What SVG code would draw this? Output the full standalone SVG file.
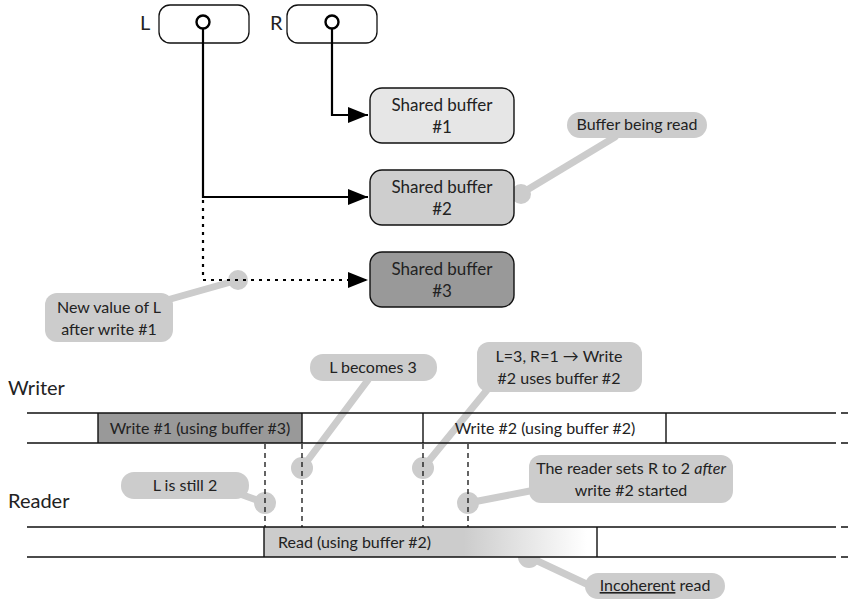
<svg xmlns="http://www.w3.org/2000/svg" width="851" height="600" viewBox="0 0 851 600">
  <style>
    text { font-family: Lato, "Open Sans", "Liberation Sans", sans-serif; fill: #222; }
    .t { font-size: 16px; text-anchor: middle; }
    .bt { font-size: 17px; text-anchor: middle; }
    .lbl { font-size: 20px; }
    .ptr { fill: none; stroke: #000; stroke-width: 2.2; }
    .buf { stroke: #111; stroke-width: 1.4; }
    .lane { stroke: #111; stroke-width: 1.4; fill: none; }
    .mark { stroke: #111; stroke-width: 1.3; stroke-dasharray: 5 4; fill: none; }
    .note { fill: #cccccc; }
    .lead { stroke: #cccccc; stroke-width: 7; fill: none; stroke-linecap: round; }
    .dot { fill: #cccccc; }
  </style>
  <defs>
    <marker id="arrow" markerUnits="userSpaceOnUse" markerWidth="22" markerHeight="18" refX="20" refY="9" orient="auto">
      <path d="M0,1 L20,9 L0,17 z" fill="#000"/>
    </marker>
    <linearGradient id="fade" gradientUnits="userSpaceOnUse" x1="264" y1="0" x2="597" y2="0">
      <stop offset="0" stop-color="#cccccc"/>
      <stop offset="0.6" stop-color="#cccccc"/>
      <stop offset="0.97" stop-color="#ffffff"/>
    </linearGradient>
  </defs>

  <!-- pointer registers -->
  <g id="reg-L">
    <text class="lbl" x="140" y="30">L</text>
    <rect x="159" y="5" width="90" height="38" rx="11" fill="#fff" stroke="#111" stroke-width="1.3"/>
    <circle cx="203" cy="22" r="6.5" fill="#fff" stroke="#000" stroke-width="2.4"/>
  </g>
  <g id="reg-R">
    <text class="lbl" x="270" y="30">R</text>
    <rect x="287" y="5" width="90" height="38" rx="11" fill="#fff" stroke="#111" stroke-width="1.3"/>
    <circle cx="332" cy="22" r="6.5" fill="#fff" stroke="#000" stroke-width="2.4"/>
  </g>

  <!-- callout leaders (drawn under everything else) -->
  <g id="leaders">
    <path class="lead" d="M615,137 L522,193"/>
    <circle class="dot" cx="521" cy="194" r="10"/>
    <path class="lead" d="M160,302 L238,280"/>
    <circle class="dot" cx="238" cy="280" r="10"/>
    <path class="lead" d="M368,380 L302,468"/>
    <circle class="dot" cx="302" cy="468" r="11"/>
    <path class="lead" d="M487,390 L423,468"/>
    <circle class="dot" cx="423" cy="468" r="11"/>
    <path class="lead" d="M240,494 L265,503"/>
    <circle class="dot" cx="265" cy="503" r="11"/>
    <path class="lead" d="M535,490 L468,503"/>
    <circle class="dot" cx="468" cy="503" r="11"/>
    <path class="lead" d="M529,557 L595,588"/>
    <circle class="dot" cx="529" cy="557" r="11"/>
  </g>

  <!-- pointer connectors -->
  <g id="connectors">
    <path class="ptr" d="M332,29 V115 H368" marker-end="url(#arrow)"/>
    <path class="ptr" d="M203,29 V197 H368" marker-end="url(#arrow)"/>
    <path class="ptr" d="M203,200 V280 H368" stroke-dasharray="3 5" marker-end="url(#arrow)"/>
  </g>

  <!-- shared buffers -->
  <g id="buffer-1">
    <rect class="buf" x="370" y="88" width="144" height="55" rx="12" fill="#e6e6e6"/>
    <text class="bt" x="442" y="111">Shared buffer</text>
    <text class="bt" x="442" y="133">#1</text>
  </g>
  <g id="buffer-2">
    <rect class="buf" x="370" y="170" width="144" height="55" rx="12" fill="#cecece"/>
    <text class="bt" x="442" y="193">Shared buffer</text>
    <text class="bt" x="442" y="215">#2</text>
  </g>
  <g id="buffer-3">
    <rect class="buf" x="370" y="252" width="144" height="55" rx="12" fill="#999999"/>
    <text class="bt" x="442" y="275">Shared buffer</text>
    <text class="bt" x="442" y="297">#3</text>
  </g>

  <!-- callouts -->
  <g id="note-read">
    <rect class="note" x="567" y="112" width="140" height="26" rx="13"/>
    <text class="t" x="637" y="130">Buffer being read</text>
  </g>
  <g id="note-newL">
    <rect class="note" x="45" y="293" width="128" height="49" rx="12"/>
    <text class="t" x="109" y="313">New value of L</text>
    <text class="t" x="109" y="335">after write #1</text>
  </g>

  <!-- timelines -->
  <g id="writer">
    <text class="lbl" x="8" y="395">Writer</text>
    <rect x="98" y="413" width="204" height="30" fill="#999999"/>
    <path class="lane" d="M27,413 H836 M841,413 H848 M27,443 H836 M841,443 H848 M98,413 V443 M302,413 V443 M423,413 V443 M666,413 V443"/>
    <text class="t" x="200" y="434">Write #1 (using buffer #3)</text>
    <text class="t" x="545" y="434">Write #2 (using buffer #2)</text>
  </g>
  <g id="reader">
    <text class="lbl" x="8" y="508">Reader</text>
    <rect x="264" y="527" width="333" height="30" fill="url(#fade)"/>
    <path class="lane" d="M27,527 H836 M841,527 H848 M27,557 H836 M841,557 H848 M264,527 V557 M597,527 V557"/>
    <text x="278" y="548" style="font-size:16px">Read (using buffer #2)</text>
  </g>
  <g id="markers">
    <path class="mark" d="M265,444 V527 M302,444 V527 M423,444 V527 M468,444 V527"/>
  </g>

  <g id="note-L3">
    <rect class="note" x="310" y="354" width="127" height="27" rx="13"/>
    <text class="t" x="373" y="373">L becomes 3</text>
  </g>
  <g id="note-L3R1">
    <rect class="note" x="477" y="342" width="165" height="50" rx="12"/>
    <text class="t" x="559" y="362">L=3, R=1 → Write</text>
    <text class="t" x="559" y="384">#2 uses buffer #2</text>
  </g>
  <g id="note-L2">
    <rect class="note" x="121" y="472" width="128" height="27" rx="13"/>
    <text class="t" x="185" y="491">L is still 2</text>
  </g>
  <g id="note-R2">
    <rect class="note" x="529" y="455" width="204" height="48" rx="12"/>
    <text class="t" x="631" y="474">The reader sets R to 2 <tspan font-style="italic">after</tspan></text>
    <text class="t" x="631" y="496">write #2 started</text>
  </g>
  <g id="note-incoherent">
    <rect class="note" x="585" y="573" width="140" height="26" rx="13"/>
    <text class="t" x="655" y="591"><tspan text-decoration="underline">Incoherent</tspan> read</text>
  </g>
</svg>
